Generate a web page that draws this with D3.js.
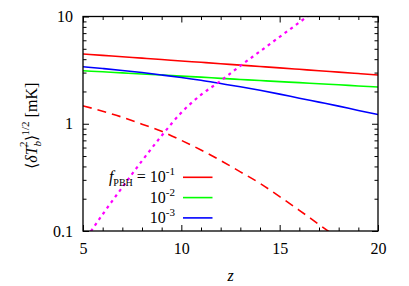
<!DOCTYPE html>
<html>
<head>
<meta charset="utf-8">
<script src="https://cdn.jsdelivr.net/npm/d3@7"></script>
<style>
  body { margin: 0; background: #fff; }
  svg, svg text, svg tspan { font-family: "Liberation Serif", "Times New Roman" !important; }
</style>
</head>
<body>
<div id="container"></div>
<script>
/* DATA */
const zVals = [5, 6, 7, 8, 9, 10, 11, 12, 13, 14, 15, 16, 17, 18, 19, 20];
const red1 = [4.47, 4.34, 4.21, 4.09, 3.97, 3.85, 3.74, 3.63, 3.52, 3.42, 3.32, 3.22, 3.12, 3.03, 2.94, 2.85];
const green2 = [3.12, 3.05, 2.98, 2.91, 2.85, 2.78, 2.72, 2.65, 2.59, 2.53, 2.47, 2.42, 2.36, 2.31, 2.25, 2.2];
const blue3 = [3.40, 3.27, 3.14, 3.00, 2.85, 2.70, 2.54, 2.37, 2.21, 2.05, 1.89, 1.73, 1.59, 1.46, 1.33, 1.22];
const zDashed = [5, 6, 7, 8, 9, 10, 11, 12, 13, 14, 15, 16, 17, 18];
const redDashed = [1.47, 1.31, 1.15, 0.99, 0.85, 0.70, 0.57, 0.454, 0.356, 0.278, 0.209, 0.156, 0.115, 0.085];
const zDotted = [5, 6, 7, 8, 9, 10, 11, 12, 13, 14, 15, 16, 17];
const magentaDotted = [0.077, 0.143, 0.256, 0.451, 0.774, 1.27, 1.86, 2.51, 3.47, 4.73, 6.46, 8.81, 12.0];

const xMajor = [5, 10, 15, 20];
const xMinor = [6, 7, 8, 9, 11, 12, 13, 14, 16, 17, 18, 19];
const yMajor = [0.1, 1, 10];
const yLabels = ["0.1", "1", "10"];
const yMinor = [0.2, 0.3, 0.4, 0.5, 0.6, 0.7, 0.8, 0.9, 2, 3, 4, 5, 6, 7, 8, 9];
const legendExp = ["-1", "-2", "-3"];

const FONT = '"Liberation Serif", "Times New Roman"';

const width = 409, height = 286,
  margin = { top: 16.5, bottom: 55, left: 83, right: 31 };

const svg = d3.select("#container").append("svg")
  .attr("width", width)
  .attr("height", height)
  .attr("font-family", "Liberation Serif");

const xScale = d3.scaleLinear()
  .domain([5, 20])
  .range([margin.left, width - margin.right]);

const yScale = d3.scaleLog()
  .domain([0.1, 10])
  .range([height - margin.bottom, margin.top]);

const x0 = xScale.range()[0], x1 = xScale.range()[1];
const y0 = yScale.range()[0], y1 = yScale.range()[1];

svg.append("clipPath").attr("id", "clip")
  .append("rect")
  .attr("x", x0).attr("y", y1)
  .attr("width", x1 - x0).attr("height", y0 - y1);

/* AXES: ticks point inwards on all four sides */
function styleAxis(g) {
  g.attr("font-family", null);
  g.select(".domain").remove();
  g.selectAll(".tick line").attr("stroke", "#000").attr("stroke-width", 1);
  g.selectAll("text")
    .attr("fill", "#000")
    .style("font-family", FONT)
    .style("font-size", "16px");
}

svg.append("g")
  .attr("transform", `translate(0,${y0})`)
  .call(d3.axisBottom(xScale).tickValues(xMajor).tickSizeInner(-6).tickSizeOuter(0).tickPadding(12))
  .call(styleAxis);
svg.append("g")
  .attr("transform", `translate(0,${y0})`)
  .call(d3.axisBottom(xScale).tickValues(xMinor).tickSizeInner(-3.5).tickSizeOuter(0).tickFormat(""))
  .call(styleAxis);
svg.append("g")
  .attr("transform", `translate(0,${y1})`)
  .call(d3.axisTop(xScale).tickValues(xMajor).tickSizeInner(-6).tickSizeOuter(0).tickFormat(""))
  .call(styleAxis);
svg.append("g")
  .attr("transform", `translate(0,${y1})`)
  .call(d3.axisTop(xScale).tickValues(xMinor).tickSizeInner(-3.5).tickSizeOuter(0).tickFormat(""))
  .call(styleAxis);

svg.append("g")
  .attr("transform", `translate(${x0},0)`)
  .call(d3.axisLeft(yScale).tickValues(yMajor).tickSizeInner(-6).tickSizeOuter(0).tickPadding(10)
    .tickFormat((d, i) => yLabels[i]))
  .call(styleAxis);
svg.append("g")
  .attr("transform", `translate(${x0},0)`)
  .call(d3.axisLeft(yScale).tickValues(yMinor).tickSizeInner(-3.5).tickSizeOuter(0).tickFormat(""))
  .call(styleAxis);
svg.append("g")
  .attr("transform", `translate(${x1},0)`)
  .call(d3.axisRight(yScale).tickValues(yMajor).tickSizeInner(-6).tickSizeOuter(0).tickFormat(""))
  .call(styleAxis);
svg.append("g")
  .attr("transform", `translate(${x1},0)`)
  .call(d3.axisRight(yScale).tickValues(yMinor).tickSizeInner(-3.5).tickSizeOuter(0).tickFormat(""))
  .call(styleAxis);

/* CURVES */
const line = d3.line()
  .x(d => xScale(d[0]))
  .y(d => yScale(d[1]))
  .curve(d3.curveMonotoneX);

const curves = [
  { z: zVals, v: red1, color: "#ff0000", dash: null, w: 1.6 },
  { z: zVals, v: green2, color: "#00ff00", dash: null, w: 1.6 },
  { z: zVals, v: blue3, color: "#0000ff", dash: null, w: 1.6 },
  { z: zDashed, v: redDashed, color: "#ff0000", dash: "9,6", w: 1.6 },
  { z: zDotted, v: magentaDotted, color: "#ff00ff", dash: "3,4", w: 2.2 }
];

svg.append("g")
  .attr("clip-path", "url(#clip)")
  .selectAll("path")
  .data(curves)
  .join("path")
  .attr("d", c => line(c.z.map((z, i) => [z, c.v[i]])))
  .attr("fill", "none")
  .attr("stroke", c => c.color)
  .attr("stroke-width", c => c.w)
  .attr("stroke-dasharray", c => c.dash);

/* FRAME */
svg.append("rect")
  .attr("x", x0).attr("y", y1)
  .attr("width", x1 - x0).attr("height", y0 - y1)
  .attr("fill", "none")
  .attr("stroke", "#000")
  .attr("stroke-width", 1.3);

/* LEGEND */
const legendColors = ["#ff0000", "#00ff00", "#0000ff"];
const legend = svg.append("g");
legendColors.forEach((col, i) => {
  const by = 182.3 + i * 20.3;
  const t = legend.append("text")
    .attr("x", 175).attr("y", by)
    .attr("text-anchor", "end")
    .style("font-family", FONT)
    .style("font-size", "16px");
  if (i === 0) {
    t.append("tspan").style("font-style", "italic").text("f");
    t.append("tspan").attr("dy", 4).style("font-size", "10px").text("PBH");
    t.append("tspan").attr("dy", -4).text(" = 10");
  } else {
    t.append("tspan").text("10");
  }
  t.append("tspan").attr("dy", -7).style("font-size", "11px").text(legendExp[i]);
  legend.append("line")
    .attr("x1", 183).attr("x2", 212.5)
    .attr("y1", by - 5).attr("y2", by - 5)
    .attr("stroke", col).attr("stroke-width", 1.6);
});

/* AXIS TITLES */
svg.append("text")
  .attr("x", (x0 + x1) / 2)
  .attr("y", 281)
  .attr("text-anchor", "middle")
  .style("font-family", FONT)
  .style("font-size", "16px")
  .style("font-style", "italic")
  .text("z");

const yt = svg.append("text")
  .attr("transform", `translate(37,${(y0 + y1) / 2 + 2}) rotate(-90)`)
  .attr("text-anchor", "middle")
  .style("font-family", FONT)
  .style("font-size", "16px");
yt.append("tspan").text("\u27E8");
yt.append("tspan").style("font-style", "italic").text("\u03B4T");
yt.append("tspan").attr("dy", 4).style("font-size", "11px").style("font-style", "italic").text("b");
yt.append("tspan").attr("dx", -6).attr("dy", -14).style("font-size", "11px").text("2");
yt.append("tspan").attr("dy", 10).text("\u27E9");
yt.append("tspan").attr("dy", -8).style("font-size", "11px").text("1/2");
yt.append("tspan").attr("dy", 8).text(" [mK]");
</script>
</body>
</html>
